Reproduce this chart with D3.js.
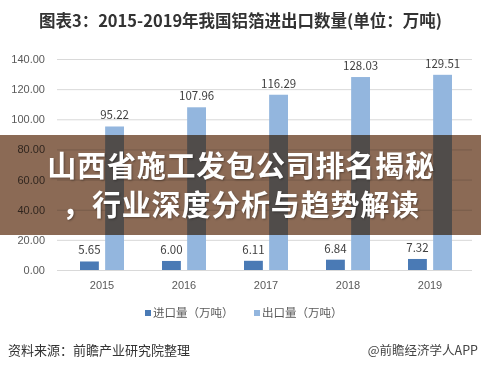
<!DOCTYPE html>
<html>
<head>
<meta charset="utf-8">
<script src="https://cdn.jsdelivr.net/npm/d3@7"></script>
<style>
  body { margin: 0; background: #fff; }
  svg { display: block; font-family: "Noto Sans CJK SC", "Noto Sans", sans-serif; }
  .grid line { stroke: #d9d9d9; }
  .grid .domain { display: none; }
  .tick text { fill: #595959; font-size: 11px; }
</style>
</head>
<body>
<script>
const years = ['2015', '2016', '2017', '2018', '2019'];
const imports = [5.65, 6.00, 6.11, 6.84, 7.32];
const exports = [95.22, 107.96, 116.29, 128.03, 129.51];
const yTicks = [0, 20, 40, 60, 80, 100, 120, 140];
const seriesNames = ['进口量（万吨）', '出口量（万吨）'];
const seriesColors = ['#4a7ab5', '#93b6de'];

const width = 481, height = 370;

const svg = d3.select('body').append('svg')
    .attr('width', width)
    .attr('height', height);

svg.append('text')
    .attr('x', width / 2)
    .attr('y', 27)
    .attr('text-anchor', 'middle')
    .style('font-size', '16.5px')
    .style('font-weight', 'bold')
    .style('fill', '#333')
    .text('图表3：2015-2019年我国铝箔进出口数量(单位：万吨)');

const x0 = d3.scaleBand()
    .domain(years)
    .range([61, 471]);

const x1 = d3.scaleBand()
    .domain([0, 1])
    .range([-22, 22])
    .paddingInner(0.25);

const y = d3.scaleLinear()
    .domain([0, 140])
    .range([270, 59]);

// gridlines + y labels
svg.append('g')
    .attr('class', 'grid')
    .attr('transform', 'translate(57,0)')
    .call(d3.axisLeft(y).tickValues(yTicks).tickSize(-415).tickPadding(12).tickFormat(d3.format('.2f')))
    .call(g => g.selectAll('.tick line').attr('stroke', '#d9d9d9'));

// x labels
svg.append('g')
    .attr('transform', 'translate(0,270)')
    .call(d3.axisBottom(x0).tickSize(0).tickPadding(11))
    .call(g => g.select('.domain').remove());

const rows = years.map((yr, i) => ({year: yr, vals: [imports[i], exports[i]]}));

const grp = svg.selectAll('.year')
  .data(rows)
  .enter().append('g')
    .attr('transform', d => 'translate(' + (x0(d.year) + x0.bandwidth() / 2) + ',0)');

grp.selectAll('rect')
  .data(d => d.vals.map((v, k) => ({k: k, v: v})))
  .enter().append('rect')
    .attr('x', d => x1(d.k))
    .attr('y', d => y(d.v))
    .attr('width', x1.bandwidth())
    .attr('height', d => y(0) - y(d.v))
    .attr('fill', d => seriesColors[d.k]);

grp.selectAll('.lbl')
  .data(d => d.vals.map((v, k) => ({k: k, v: v})))
  .enter().append('text')
    .attr('class', 'lbl')
    .attr('x', d => x1(d.k) + x1.bandwidth() / 2)
    .attr('y', d => y(d.v) - 7)
    .attr('text-anchor', 'middle')
    .style('font-size', '11.5px')
    .style('fill', '#404040')
    .text(d => d3.format('.2f')(d.v));

// legend
const legX = [145, 254];
const leg = svg.selectAll('.leg')
  .data(seriesNames)
  .enter().append('g')
    .attr('transform', (d, i) => 'translate(' + legX[i] + ',313)');

leg.append('rect')
    .attr('x', 0)
    .attr('y', -3)
    .attr('width', 6)
    .attr('height', 6)
    .attr('fill', (d, i) => seriesColors[i]);

leg.append('text')
    .attr('x', 8)
    .attr('y', 4)
    .style('font-size', '11.5px')
    .style('fill', '#595959')
    .text(d => d);

// source
svg.append('text')
    .attr('x', 8)
    .attr('y', 355)
    .style('font-size', '13px')
    .style('fill', '#333')
    .text('资料来源：前瞻产业研究院整理');

svg.append('text')
    .attr('x', 478)
    .attr('y', 355)
    .attr('text-anchor', 'end')
    .style('font-size', '12.5px')
    .style('fill', '#444')
    .text('@前瞻经济学人APP');

// overlay band
svg.append('rect')
    .attr('x', 0)
    .attr('y', 135)
    .attr('width', width)
    .attr('height', 100)
    .attr('fill', '#8b6a55')
    .style('mix-blend-mode', 'multiply');

const headline = ['山西省施工发包公司排名揭秘', '，行业深度分析与趋势解读'];
svg.selectAll('.hl')
  .data(headline)
  .enter().append('text')
    .attr('class', 'hl')
    .attr('x', 241)
    .attr('y', (d, i) => [177, 216][i])
    .attr('text-anchor', 'middle')
    .style('font-size', '29px')
    .style('letter-spacing', '0.8px')
    .style('font-weight', 'bold')
    .style('fill', '#fff')
    .style('text-shadow', '1px 1px 2px rgba(0,0,0,0.35)')
    .text(d => d);
</script>
</body>
</html>
